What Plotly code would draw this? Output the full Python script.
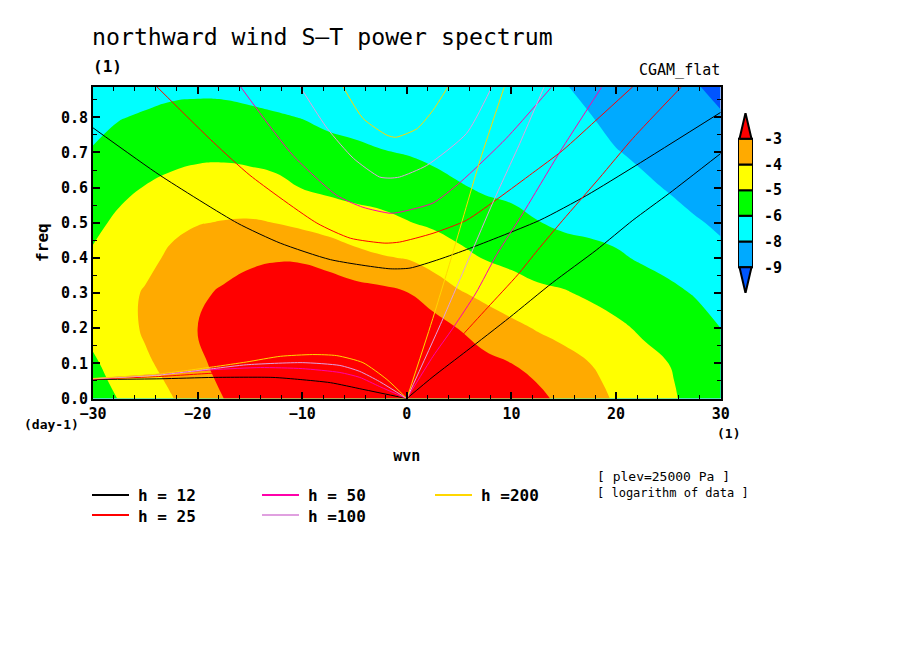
import numpy as np
import plotly.graph_objects as go

# log10 power, one list per wavenumber column
wvn = [-30, -27.5, -25, -22.5, -20, -17.5, -15, -12.5, -10, -7.5, -5, -2.5, 0,
       2.5, 5, 7.5, 10, 12.5, 15, 17.5, 20, 22.5, 25, 27.5, 30]
freq = [0, 0.05, 0.1, 0.2, 0.3, 0.4, 0.5, 0.6, 0.7, 0.8, 0.9]
power = [
    [-5.9, -5.7, -5.45, -5.0, -4.85, -5.15, -5.55, -5.96, -6.37, -6.78, -7.19],
    [-5.25, -5.0, -4.85, -4.65, -4.55, -4.7, -5.1, -5.56, -6.03, -6.5, -6.97],
    [-4.72, -4.53, -4.32, -4.0, -4.05, -4.47, -4.86, -5.26, -5.79, -6.34, -6.89],
    [-4.2, -4.0, -3.8, -3.5, -3.6, -3.95, -4.42, -5.03, -5.62, -6.19, -6.77],
    [-3.6, -3.42, -3.22, -3.0, -3.2, -3.6, -4.2, -4.87, -5.51, -6.13, -6.74],
    [-3.0, -2.8, -2.65, -2.55, -2.85, -3.45, -4.1, -4.81, -5.5, -6.13, -6.77],
    [-2.45, -2.3, -2.2, -2.15, -2.55, -3.21, -4.06, -4.86, -5.59, -6.23, -6.87],
    [-2.1, -2.0, -1.9, -1.95, -2.3, -3.1, -4.17, -5.01, -5.72, -6.35, -6.99],
    [-1.9, -1.8, -1.8, -1.9, -2.3, -3.13, -4.39, -5.33, -5.9, -6.48, -7.05],
    [-1.9, -1.85, -1.85, -2.0, -2.4, -3.38, -4.65, -5.51, -6.1, -6.69, -7.28],
    [-2.0, -1.95, -1.95, -2.1, -2.55, -3.8, -4.89, -5.63, -6.24, -6.8, -7.35],
    [-2.05, -2.0, -2.05, -2.25, -2.7, -4.06, -5.02, -5.75, -6.39, -6.95, -7.4],
    [-2.1, -2.1, -2.2, -2.5, -2.96, -4.2, -5.25, -5.89, -6.5, -7.05, -7.4],
    [-2.2, -2.2, -2.3, -2.55, -3.5, -4.58, -5.47, -6.09, -6.68, -7.2, -7.45],
    [-2.3, -2.35, -2.45, -3.03, -4.05, -5.01, -5.73, -6.36, -6.87, -7.3, -7.5],
    [-2.35, -2.5, -2.75, -3.48, -4.44, -5.36, -5.98, -6.58, -7.05, -7.4, -7.55],
    [-2.55, -2.75, -3.0, -3.88, -4.79, -5.57, -6.18, -6.67, -7.05, -7.35, -7.52],
    [-2.7, -3.04, -3.44, -4.23, -5.09, -5.78, -6.42, -6.78, -7.1, -7.35, -7.5],
    [-3.33, -3.55, -3.8, -4.48, -5.22, -5.93, -6.64, -6.9, -7.15, -7.4, -7.58],
    [-3.8, -3.95, -4.15, -4.8, -5.46, -6.2, -6.65, -6.93, -7.24, -7.55, -7.95],
    [-4.26, -4.4, -4.6, -5.1, -5.72, -6.33, -6.76, -7.15, -7.54, -7.98, -8.43],
    [-4.7, -4.8, -4.98, -5.44, -6.02, -6.55, -6.97, -7.39, -7.81, -8.23, -8.6],
    [-5.13, -5.2, -5.3, -5.77, -6.26, -6.73, -7.2, -7.67, -8.1, -8.5, -8.7],
    [-5.6, -5.65, -5.75, -6.1, -6.5, -7.0, -7.5, -7.95, -8.3, -8.55, -8.72],
    [-6.0, -6.05, -6.15, -6.45, -6.9, -7.37, -7.75, -8.05, -8.35, -8.65, -9.1],
]

band_colors = ["#0055ff", "#00aaff", "#00ffff", "#00ff00", "#ffff00", "#ffaa00", "#ff0000"]
bar_labels = ["-9", "-8", "-6", "-5", "-4", "-3"]

# dispersion curves, (wvn, freq)
h12_low = [(-30, .054), (-23.6, .056), (-18.5, .06), (-12.8, .06), (-10.2, .054), (-7.3, .045), (-4.2, .026), (0, 0)]
h12_kelvin = [(0, 0), (2.5, .062), (5.7, .135), (9.8, .23), (13.9, .329), (18.1, .422), (21.6, .507), (25.1, .584), (30, .697)]
h12_eig = [(-30, .77), (-23.6, .635), (-16.2, .499), (-12.1, .442), (-7.3, .395), (-1.6, .369), (.3, .371), (3.1, .396),
           (6, .427), (12.7, .507), (17.2, .578), (21.9, .663), (30, .814)]
h25_low = [(-30, .055), (-24, .062), (-18.5, .072), (-14, .076), (-10, .074), (-7, .063), (-4, .038), (0, 0)]
h25_kelvin = [(0, 0), (2.5, .085), (5, .17), (7.7, .258), (10.6, .352), (12.5, .422), (14.9, .507), (18.4, .627), (21.6, .74), (26.2, .885)]
h25_eig = [(-23.9, .887), (-18.5, .729), (-15, .635), (-8.6, .499), (-5.4, .456), (-2.1, .442), (-.7, .445), (2.5, .47),
           (5.7, .507), (8.9, .573), (12, .641), (14.9, .706), (18.4, .8), (21.6, .887)]
h50_low = [(-30, .056), (-24, .068), (-18.5, .082), (-14, .088), (-10, .085), (-6.4, .074), (-4.5, .06), (-2.6, .034), (0, 0)]
h50_kelvin = [(0, 0), (2.5, .12), (4.4, .2), (6.6, .3), (8.6, .41), (11.1, .527), (14.6, .7), (18.6, .885)]
h50_eig = [(-15.9, .887), (-10.9, .692), (-6.7, .578), (-4.2, .544), (-1.6, .527), (-.7, .53), (2.5, .556), (5.1, .615), (9.5, .74), (13.8, .885)]
h100_low = [(-30, .056), (-23.6, .067), (-18.5, .085), (-15.3, .096), (-10, .102), (-6.4, .094), (-4.5, .077), (-2.6, .048), (0, 0)]
h100_kelvin = [(0, 0), (3.2, .21), (6.1, .41), (8.2, .556), (10.8, .726), (13.1, .885)]
h100_eig = [(-10.2, .887), (-7.6, .768), (-5.1, .683), (-2.6, .63), (-1.6, .627), (-.7, .63), (1.9, .663), (5.7, .754), (8.1, .885)]
h200_low = [(-30, .057), (-23.6, .07), (-18.5, .09), (-15.3, .104), (-12.1, .12), (-9, .125), (-6.7, .122), (-4.2, .102), (-1.9, .054), (0, 0)]
h200_kelvin = [(0, 0), (2.4, .22), (4.35, .41), (7, .678), (9.3, .885)]
h200_eig = [(-6.1, .887), (-4.2, .797), (-1.9, .749), (-1.1, .743), (-.4, .749), (1, .768), (2.5, .82), (3.9, .885)]

curves = [
    ("h = 12", "#000000", [h12_low, h12_kelvin, h12_eig]),
    ("h = 25", "#ff0000", [h25_low, h25_kelvin, h25_eig]),
    ("h = 50", "#ff00aa", [h50_low, h50_kelvin, h50_eig]),
    ("h =100", "#e0a0e0", [h100_low, h100_kelvin, h100_eig]),
    ("h =200", "#ffd700", [h200_low, h200_kelvin, h200_eig]),
]

MONO = "DejaVu Sans Mono"
# the page keeps its default 8px body margin, so the figure sits 8px in
PAGE = 8
W, H = 904 - PAGE, 654 - PAGE


def px(x):
    return (x - PAGE) / W


def py(y):
    return 1 - (y - PAGE) / H


fig = go.Figure()

# filled spectrum, levels step 1.15 from -8.75 up to -3
scale = []
for i, c in enumerate(band_colors):
    scale += [[i / 7, c], [(i + 1) / 7, c]]
fig.add_trace(go.Contour(
    x=wvn, y=freq, z=np.array(power).T,
    contours=dict(start=-8.75, end=-3.0, size=1.15, coloring="fill", showlines=False),
    colorscale=scale, zmin=-9.9, zmax=-1.85, showscale=False, line=dict(width=0, smoothing=1.3),
    hoverinfo="skip",
))

for name, color, branches in curves:
    for branch in branches:
        fig.add_trace(go.Scatter(
            x=[p[0] for p in branch], y=[p[1] for p in branch], mode="lines",
            line=dict(color=color, width=1, shape="spline", smoothing=0.6),
            showlegend=False, name=name,
        ))

# colorbar on its own axes
n_boxes = len(bar_labels) - 1
fig.add_trace(go.Bar(
    x=[0.5] * n_boxes, y=[1] * n_boxes, base=list(range(n_boxes)), width=1,
    marker=dict(color=band_colors[1:-1], line=dict(color="black", width=2)),
    xaxis="x2", yaxis="y2", showlegend=False,
))
fig.add_trace(go.Scatter(
    x=[0.1, 0.5, 0.9, 0.1], y=[n_boxes, n_boxes + 1, n_boxes, n_boxes], mode="lines", fill="toself",
    fillcolor=band_colors[-1], line=dict(color="black", width=2), xaxis="x2", yaxis="y2", showlegend=False,
))
fig.add_trace(go.Scatter(
    x=[0.1, 0.5, 0.9, 0.1], y=[0, -1, 0, 0], mode="lines", fill="toself",
    fillcolor=band_colors[0], line=dict(color="black", width=2), xaxis="x2", yaxis="y2", showlegend=False,
))

axis_common = dict(
    automargin=False, showline=True, linecolor="black", linewidth=2, mirror="allticks", ticks="inside",
    ticklen=7, tickwidth=2, tickcolor="black", showgrid=False, zeroline=False,
    tickfont=dict(family=MONO, size=15, color="black", weight="bold"),
)
fig.update_layout(
    width=W, height=H, paper_bgcolor="white", plot_bgcolor="white",
    margin=dict(l=0, r=0, t=0, b=0), showlegend=False,
    xaxis=dict(
        domain=[px(93), px(720.7)], range=[-30, 30], tick0=-30, dtick=10,
        minor=dict(dtick=2, ticks="inside", ticklen=4, tickwidth=1, tickcolor="black"),
        title=dict(text="wvn", font=dict(family=MONO, size=15, color="black", weight="bold"), standoff=29),
        **axis_common,
    ),
    yaxis=dict(
        domain=[py(398.5), py(86.7)], range=[0, 0.887], tick0=0, dtick=0.1, tickformat=".1f",
        minor=dict(dtick=0.05, ticks="inside", ticklen=4, tickwidth=1, tickcolor="black"),
        title=dict(text="freq", font=dict(family=MONO, size=16, color="black", weight="bold"), standoff=8),
        **axis_common,
    ),
    xaxis2=dict(domain=[px(738), px(753)], range=[0, 1], visible=False, anchor="y2", automargin=False),
    yaxis2=dict(
        domain=[py(293), py(113)], range=[-1, n_boxes + 1], anchor="x2", side="right", automargin=False,
        tickvals=list(range(n_boxes + 1)), ticktext=bar_labels, ticks="", showline=False,
        showgrid=False, zeroline=False, ticklabelstandoff=10,
        tickfont=dict(family=MONO, size=15, color="black", weight="bold"),
    ),
    title=dict(text="northward wind S\u2014T power spectrum", x=px(92), xanchor="left",
               y=py(37), yanchor="middle", font=dict(family=MONO, size=23.2, color="black")),
)


def note(x, y, text, size, bold=False, anchor="left"):
    fig.add_annotation(
        x=px(x), y=py(y), xref="paper", yref="paper", text=text, showarrow=False,
        xanchor=anchor, yanchor="middle", borderpad=0, xshift=0,
        font=dict(family=MONO, size=size, color="black", weight="bold" if bold else "normal"),
    )


note(92, 67, "(1)", 16, bold=True)
note(721, 70, "CGAM_flat", 15, anchor="right")
note(23, 424, "(day-1)", 13, bold=True)
note(716, 433, "(1)", 13, bold=True)
note(596, 477, "[ plev=25000 Pa ]", 13)
note(596, 493, "[ logarithm of data ]", 12)

# legend entries laid out the way the original has them
legend_slots = [(92, 495), (92, 515), (262, 495), (262, 515), (435, 495)]
for (name, color, _), (lx, ly) in zip(curves, legend_slots):
    fig.add_shape(type="line", xref="paper", yref="paper", x0=px(lx), x1=px(lx + 37), y0=py(ly), y1=py(ly),
                  line=dict(color=color, width=2))
    note(lx + 45, ly + 1, name, 16, bold=True)

fig.write_html("out.html")
